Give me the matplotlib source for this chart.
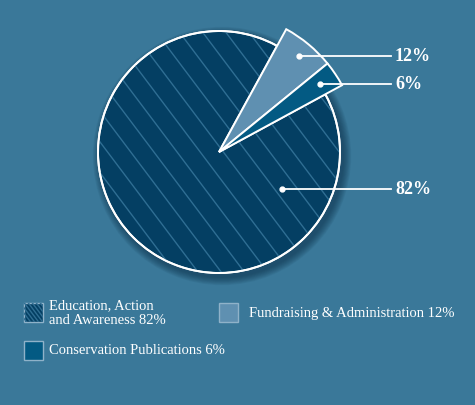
import numpy as np
import matplotlib
matplotlib.use("Agg")
import matplotlib.pyplot as plt
from matplotlib.patches import Rectangle, Circle

# values as printed on the chart
labels = ["12%", "6%", "82%"]
legend_labels = ["Education, Action\nand Awareness 82%",
                 "Fundraising & Administration 12%",
                 "Conservation Publications 6%"]
# slice sizes in degrees as they are drawn in the picture (not to scale)
slice_deg = [22.1, 10.7, 327.2]
slice_colors = ["#5f90b1", "#035a83", "#043f63"]

bg = "#3a7899"
hatch_col = "#2f6e93"
W, H = 475, 405

fig = plt.figure(figsize=(4.75, 4.05), dpi=100, facecolor=bg)
ax = fig.add_axes([0, 0, 1, 1])
ax.set_xlim(0, W)
ax.set_ylim(0, H)
ax.set_aspect("equal")
ax.axis("off")

cx, cy = 219, H - 152
r_big, r_small = 121, 140

# soft shadow under the big circle
for k in range(10):
    ax.add_patch(Circle((cx + 3, cy - 4), r_big + 1 + k * 0.8, color="#0b2f48",
                        alpha=0.07, lw=0, zorder=0))

wedges, _ = ax.pie(slice_deg, colors=slice_colors, startangle=61.3,
                   counterclock=False, radius=r_big, center=(cx, cy),
                   wedgeprops=dict(edgecolor="white", linewidth=1.4))
ax.set_xlim(0, W)
ax.set_ylim(0, H)
big = wedges[2]
big.set_zorder(1)
for w in wedges[:2]:
    w.set_radius(r_small)
    w.set_zorder(3)

# diagonal hatch inside the big slice
ang = np.deg2rad(-53)
d = np.array([np.cos(ang), np.sin(ang)])
nrm = np.array([-d[1], d[0]])
for off in np.arange(-200, 200, 18.5):
    p0 = np.array([cx, cy]) + nrm * off - d * 200
    p1 = np.array([cx, cy]) + nrm * off + d * 200
    ln, = ax.plot([p0[0], p1[0]], [p0[1], p1[1]], color=hatch_col, lw=1.0, zorder=2)
    ln.set_clip_path(big)
ax.add_patch(Circle((cx, cy), r_big, fill=False, ec="white", lw=1.4, zorder=2.5))

# label leaders
dots = []
for w, frac in zip(wedges[:2], [0.89, 0.87]):
    mid = np.deg2rad((w.theta1 + w.theta2) / 2)
    dots.append((cx + frac * r_small * np.cos(mid), cy + frac * r_small * np.sin(mid)))
mid = np.deg2rad(-30.7)
dots.append((cx + 73 * np.cos(mid), cy + 73 * np.sin(mid)))

x_end = 391
for (x, y), lab in zip(dots, labels):
    ax.plot([x, x_end], [y, y], color="white", lw=1.3, zorder=4)
    ax.plot(x, y, "o", color="white", ms=3.5, zorder=4)
    ax.text(x_end + 4, y, lab, color="white", fontsize=13, fontweight="bold",
            family="Liberation Serif", va="center", ha="left", zorder=4)

# legend
leg_pos = [(24, H - 322), (219, H - 322), (24, H - 360)]
text_y = [H - 313, H - 313, H - 351]
text_x = [49, 249, 49]
leg_colors = [slice_colors[2], slice_colors[0], slice_colors[1]]
for i, ((x, y), col) in enumerate(zip(leg_pos, leg_colors)):
    sq = Rectangle((x, y), 19, 19, fc=col, ec="#8fb2c9", lw=1.0, zorder=3)
    ax.add_patch(sq)
    if i == 0:
        for off in np.arange(-30, 30, 4):
            ln, = ax.plot([x + 9.5 + off - 12, x + 9.5 + off + 12],
                          [y + 9.5 + 16, y + 9.5 - 16], color=hatch_col, lw=1.0, zorder=3.5)
            ln.set_clip_path(sq)
    ax.text(text_x[i], text_y[i], legend_labels[i], color="white", fontsize=10.5,
            family="Liberation Serif", va="center", ha="left", linespacing=1.15)

fig.savefig("out.png", dpi=100, facecolor=bg)
